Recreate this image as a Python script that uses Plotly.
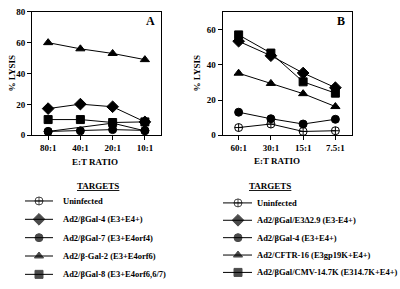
import plotly.graph_objects as go

# ---------------- data ----------------
ratios_a = ["80:1", "40:1", "20:1", "10:1"]
uninf_a = [2.5, None, 7.9, 2.9]
gal4_a = [17.3, 20.2, 18.5, 8.7]
gal7_a = [2.5, 2.9, 3.7, 3.2]
gal2_a = [60.0, 56.0, 53.0, 49.0]
gal8_a = [10.2, 10.2, 8.3, 8.7]

ratios_b = ["60:1", "30:1", "15:1", "7.5:1"]
uninf_b = [4.4, 6.4, 2.2, 2.6]
e3d_b = [53.3, 45.1, 35.3, 27.0]
gal4_b = [13.1, 9.4, 6.4, 9.1]
cftr_b = [35.2, 29.4, 23.6, 16.3]
cmv_b = [56.9, 46.6, 30.3, 23.9]

labels_a = ["Uninfected", "Ad2/βGal-4 (E3+E4+)", "Ad2/βGal-7 (E3+E4orf4)",
            "Ad2/β-Gal-2 (E3+E4orf6)", "Ad2/βGal-8 (E3+E4orf6,6/7)"]
labels_b = ["Uninfected", "Ad2/βGal/E3Δ2.9 (E3-E4+)", "Ad2/βGal-4 (E3+E4+)",
            "Ad2/CFTR-16 (E3gp19K+E4+)", "Ad2/βGal/CMV-14.7K (E314.7K+E4+)"]

symbols = ["circle-cross-open", "diamond", "circle", "triangle-up", "square"]
sizes = [8, 9, 8, 8, 8]

FONT = "Liberation Serif"
W, H = 400, 289

fig = go.Figure()

def add_series(vals, xref, yref, sym, size):
    idx = list(range(len(vals)))
    fig.add_trace(go.Scatter(
        x=idx, y=vals, xaxis=xref, yaxis=yref, mode="lines+markers",
        connectgaps=True,
        line=dict(color="black", width=1),
        marker=dict(symbol=sym, size=size, color="black",
                    line=dict(color="black", width=1)),
        showlegend=False, hoverinfo="skip"))

series_a = [uninf_a, gal4_a, gal7_a, gal2_a, gal8_a]
series_b = [uninf_b, e3d_b, gal4_b, cftr_b, cmv_b]
for vals, sym, sz in zip(series_a, symbols, sizes):
    add_series(vals, "x", "y", sym, sz)
for vals, sym, sz in zip(series_b, symbols, sizes):
    add_series(vals, "x2", "y2", sym, sz)

# legend samples on an overlay axis in pixel units
leg_a_x = (25, 39, 53)
leg_b_x = (223, 238, 252)
leg_a_y = [203, 222, 241, 260, 279]
leg_b_y = [205, 223, 241, 259, 277]
for i in range(5):
    for xs, ys in ((leg_a_x, leg_a_y), (leg_b_x, leg_b_y)):
        fig.add_trace(go.Scatter(
            x=list(xs), y=[ys[i]] * 3, xaxis="x3", yaxis="y3",
            mode="lines+markers", line=dict(color="black", width=1),
            marker=dict(symbol=symbols[i], size=[0, sizes[i], 0], color="black",
                        line=dict(color="black", width=1)),
            showlegend=False, hoverinfo="skip"))

ann = []
tf = dict(family=FONT, size=8.5, color="black")
for i in range(5):
    ann.append(dict(x=61, y=leg_a_y[i], xref="x3", yref="y3", text="<b>%s</b>" % labels_a[i],
                    showarrow=False, xanchor="left", yanchor="middle", font=tf))
    ann.append(dict(x=255, y=leg_b_y[i], xref="x3", yref="y3", text="<b>%s</b>" % labels_b[i],
                    showarrow=False, xanchor="left", yanchor="middle", font=tf))
tf2 = dict(family=FONT, size=9, color="black")
for x, y, t in ((95, 163, "E:T RATIO"), (277, 162, "E:T RATIO"),
                (98, 188, "<u>TARGETS</u>"), (270, 187, "<u>TARGETS</u>")):
    ann.append(dict(x=x, y=y, xref="x3", yref="y3", text="<b>%s</b>" % t,
                    showarrow=False, xanchor="center", yanchor="middle", font=tf2))
for x, t in ((12, "% LYSIS"), (197, "% LYSIS")):
    ann.append(dict(x=x, y=71, xref="x3", yref="y3", text="<b>%s</b>" % t, textangle=-90,
                    showarrow=False, xanchor="center", yanchor="middle", font=tf2))
for x, t in ((150, "A"), (341, "B")):
    ann.append(dict(x=x, y=17, xref="x3", yref="y3", text="<b>%s</b>" % t,
                    showarrow=False, xanchor="center", yanchor="middle",
                    font=dict(family=FONT, size=12, color="black")))

def px_x(a, b):
    return [a / W, b / W]

ydom = [(H - 135) / H, (H - 7) / H]

axcommon = dict(showgrid=False, zeroline=False, showline=True, linecolor="black",
                linewidth=1, mirror=True, ticks="outside", ticklen=4,
                tickcolor="black", tickfont=dict(family=FONT, size=9, color="black"))

fig.update_layout(
    width=W, height=H, margin=dict(l=0, r=0, t=0, b=0),
    paper_bgcolor="white", plot_bgcolor="rgba(0,0,0,0)",
    xaxis=dict(domain=px_x(32, 161), range=[-0.5, 3.5], tickvals=list(range(4)),
               ticktext=["<b>%s</b>" % r for r in ratios_a], anchor="y", **axcommon),
    yaxis=dict(domain=ydom, range=[0, 80], tickvals=[0, 20, 40, 60, 80],
               ticktext=["<b>%d</b>" % v for v in [0, 20, 40, 60, 80]], anchor="x", **axcommon),
    xaxis2=dict(domain=px_x(222.5, 351.5), range=[-0.5, 3.5], tickvals=list(range(4)),
                ticktext=["<b>%s</b>" % r for r in ratios_b], anchor="y2", **axcommon),
    yaxis2=dict(domain=ydom, range=[0, 70], tickvals=[0, 20, 40, 60],
                ticktext=["<b>%d</b>" % v for v in [0, 20, 40, 60]], anchor="x2", **axcommon),
    xaxis3=dict(domain=[0, 1], range=[0, W], visible=False, anchor="y3", fixedrange=True),
    yaxis3=dict(domain=[0, 1], range=[H, 0], visible=False, anchor="x3", fixedrange=True),
    annotations=ann,
)

fig.write_html("out.html", config={"displayModeBar": False, "staticPlot": True},
               post_script="document.body.style.margin='0';")
